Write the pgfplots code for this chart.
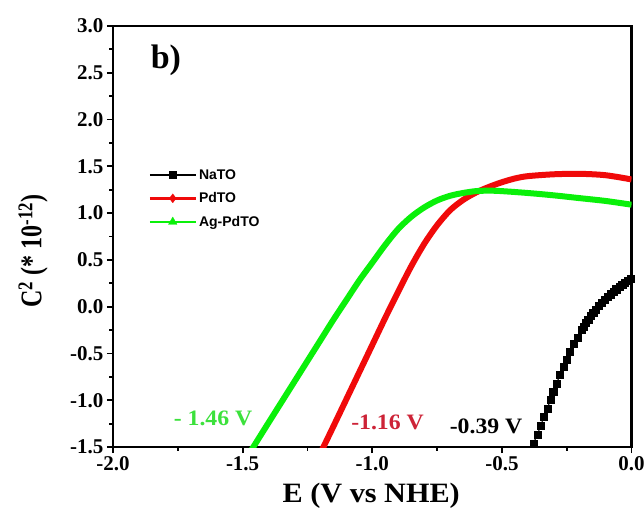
\documentclass[border=0pt]{standalone}
\usepackage{pgfplots}
\pgfplotsset{compat=1.18}
\usepackage{fontspec}
\setmainfont{Liberation Serif}
\newfontfamily\legfont{Liberation Sans}
\newfontfamily\ylabfont[FakeStretch=0.8]{Liberation Serif}
\newfontfamily\xlabfont[FakeStretch=1.08]{Liberation Serif}
\definecolor{pgreen}{RGB}{10,240,10}
\definecolor{pred}{RGB}{240,10,10}
\definecolor{tred}{RGB}{205,35,55}
\definecolor{tgreen}{RGB}{60,225,60}

\begin{document}
\begin{tikzpicture}
\begin{axis}[
  at={(0,0)}, anchor=south west,
  scale only axis, width=518.5pt, height=421pt,
  xmin=-2, xmax=0, ymin=-1.5, ymax=3,
  axis line style={line width=2.2pt},
  tick pos=left,
  tick align=outside,
  major tick length=6pt, minor tick length=3.5pt,
  every tick/.style={black, line width=1.8pt},
  minor x tick num=1, minor y tick num=1,
  xtick={-2,-1.5,-1,-0.5,0}, xticklabels={-2.0,-1.5,-1.0,-0.5,0.0},
  ytick={-1.5,-1,-0.5,0,0.5,1,1.5,2,2.5,3},
  yticklabels={-1.5,-1.0,-0.5,0.0,0.5,1.0,1.5,2.0,2.5,3.0},
  ticklabel style={font=\fontsize{21}{21}\selectfont\bfseries},
  xlabel={E (V vs NHE)},
  ylabel={C\textsuperscript{2} (* 10\textsuperscript{-12})},
  xlabel style={font=\xlabfont\fontsize{28}{28}\selectfont\bfseries,
    at={(axis description cs:0.498,-0.116)}, anchor=center},
  ylabel style={font=\ylabfont\fontsize{30}{30}\selectfont\bfseries,
    at={(axis description cs:-0.154,0.465)}, anchor=center},
  legend style={at={(axis description cs:0.068,0.665)}, anchor=north west,
    draw=none, fill=none, inner sep=0pt,
    font=\legfont\bfseries\fontsize{14}{14}\selectfont, row sep=8pt},
  legend cell align=left,
  legend image code/.code={\draw[mark repeat=2,mark phase=2,#1] plot coordinates {(0pt,0pt) (23pt,0pt) (46pt,0pt)};},
]
\addplot[black, line width=1pt, mark=square*, mark size=3.6pt,
  mark options={solid, line width=0.3pt},
  legend image post style={line width=2.6pt, mark size=3.5pt}]
coordinates {
(-0.379,-1.461) (-0.3635,-1.372) (-0.3507,-1.275) (-0.3378,-1.176)
(-0.325,-1.086) (-0.312,-0.997) (-0.302,-0.908) (-0.289,-0.819)
(-0.276,-0.730) (-0.263,-0.641) (-0.251,-0.563) (-0.238,-0.481)
(-0.222,-0.399) (-0.209,-0.328) (-0.193,-0.249) (-0.185,-0.210)
(-0.176,-0.171) (-0.167,-0.135) (-0.158,-0.100) (-0.148,-0.064)
(-0.137,-0.028) (-0.126,0.008) (-0.115,0.043) (-0.104,0.076)
(-0.093,0.107) (-0.082,0.134) (-0.070,0.160) (-0.059,0.188)
(-0.047,0.214) (-0.036,0.236) (-0.025,0.257) (-0.014,0.280) (-0.004,0.303)
};
\addlegendentry{NaTO}
\addplot[pred, line width=6pt, line join=round, smooth, tension=0.5,
  legend image post style={line width=2.6pt, mark=diamond*, mark size=4.5pt, mark options={solid, line width=0.3pt}}]
coordinates {
(-1.197,-1.55) (-1.15,-1.28) (-1.10,-0.99) (-1.05,-0.70) (-1.00,-0.41)
(-0.95,-0.12) (-0.90,0.16) (-0.85,0.43) (-0.80,0.67) (-0.75,0.87)
(-0.70,1.03) (-0.65,1.14) (-0.60,1.22) (-0.55,1.28) (-0.50,1.33)
(-0.45,1.37) (-0.40,1.395) (-0.30,1.415) (-0.20,1.42) (-0.10,1.405) (0,1.36)
};
\addlegendentry{PdTO}
\addplot[pgreen, line width=6pt, line join=round, smooth, tension=0.5,
  legend image post style={line width=2.6pt, mark=triangle*, mark size=5pt, mark options={solid, line width=0.3pt}}]
coordinates {
(-1.47,-1.55) (-1.40,-1.24) (-1.35,-1.02) (-1.30,-0.80) (-1.25,-0.58)
(-1.20,-0.36) (-1.15,-0.14) (-1.10,0.07) (-1.05,0.28) (-1.00,0.47)
(-0.95,0.66) (-0.90,0.83) (-0.85,0.96) (-0.80,1.06) (-0.75,1.135)
(-0.70,1.185) (-0.65,1.215) (-0.60,1.235) (-0.55,1.24) (-0.50,1.235)
(-0.40,1.215) (-0.30,1.19) (-0.20,1.16) (-0.10,1.13) (0,1.09)
};
\addlegendentry{Ag-PdTO}
\node[font=\fontsize{34}{34}\selectfont\bfseries] at (axis cs:-1.796,2.637) {b)};
\node[tgreen, font=\xlabfont\fontsize{22}{22}\selectfont\bfseries] at (axis cs:-1.614,-1.195) {- 1.46 V};
\node[tred, font=\xlabfont\fontsize{22}{22}\selectfont\bfseries] at (axis cs:-0.941,-1.233) {-1.16 V};
\node[black, font=\xlabfont\fontsize{22}{22}\selectfont\bfseries] at (axis cs:-0.561,-1.275) {-0.39 V};
\end{axis}
\pgfresetboundingbox
\path[use as bounding box] (-113pt,-67pt) rectangle (531pt,447pt);
\end{tikzpicture}
\end{document}
